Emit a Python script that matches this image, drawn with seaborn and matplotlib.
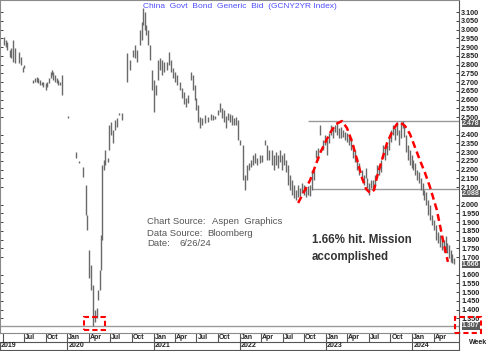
import matplotlib
matplotlib.use("Agg")
import matplotlib.pyplot as plt
import matplotlib.dates as mdates
import matplotlib.patches as mpatches
import pandas as pd
import seaborn as sns

# ---------------- data ----------------
dates = [
    "2019-04-08", "2019-04-16", "2019-04-20", "2019-05-03", "2019-05-08", "2019-05-16", "2019-05-25",
    "2019-06-10", "2019-06-18", "2019-06-27", "2019-07-01",
    "2019-08-08", "2019-08-16", "2019-08-25", "2019-08-29", "2019-09-07", "2019-09-15", "2019-09-19",
    "2019-10-02", "2019-10-06", "2019-10-15", "2019-10-23", "2019-10-27", "2019-11-01", "2019-11-09",
    "2019-11-18", "2019-11-22", "2019-11-30", "2019-12-09",
    "2020-01-04", "2020-02-06", "2020-02-19", "2020-03-08", "2020-03-20", "2020-03-24", "2020-04-02",
    "2020-04-10", "2020-04-19", "2020-04-27", "2020-05-06", "2020-05-10", "2020-05-19", "2020-05-23",
    "2020-05-27", "2020-06-04", "2020-06-09", "2020-06-21", "2020-06-26", "2020-07-04", "2020-07-13",
    "2020-07-21", "2020-07-30", "2020-08-07", "2020-08-20", "2020-09-10", "2020-09-23", "2020-10-05",
    "2020-10-14", "2020-10-22", "2020-11-04", "2020-11-13", "2020-11-17", "2020-11-25", "2020-11-29",
    "2020-12-08", "2020-12-16", "2020-12-26",
    "2021-01-03", "2021-01-12", "2021-01-20", "2021-01-29", "2021-02-06", "2021-02-14", "2021-02-27",
    "2021-03-08", "2021-03-16", "2021-03-25", "2021-04-02", "2021-04-11", "2021-04-23", "2021-05-02",
    "2021-05-10", "2021-05-19", "2021-05-27", "2021-06-09", "2021-06-17", "2021-06-26", "2021-06-30",
    "2021-07-09", "2021-07-17", "2021-07-25", "2021-08-07", "2021-08-20", "2021-09-02", "2021-09-10",
    "2021-09-19", "2021-10-01", "2021-10-10", "2021-10-18", "2021-10-27", "2021-11-04", "2021-11-13",
    "2021-11-21", "2021-11-30", "2021-12-08", "2021-12-17", "2021-12-25",
    "2022-01-02", "2022-01-15", "2022-01-23", "2022-02-01", "2022-02-09", "2022-02-18", "2022-02-26",
    "2022-03-07", "2022-03-15", "2022-03-28", "2022-04-05", "2022-04-18", "2022-04-27", "2022-05-05",
    "2022-05-18", "2022-05-26", "2022-06-04", "2022-06-12", "2022-06-21", "2022-06-29", "2022-07-08",
    "2022-07-16", "2022-07-25", "2022-08-02", "2022-08-11", "2022-08-19", "2022-08-28", "2022-09-05",
    "2022-09-13", "2022-09-22", "2022-09-30", "2022-10-09", "2022-10-17", "2022-10-26", "2022-11-03",
    "2022-11-12", "2022-11-20", "2022-11-29", "2022-12-07", "2022-12-20", "2022-12-28",
    "2023-01-06", "2023-01-14", "2023-01-23", "2023-01-31", "2023-02-09", "2023-02-17", "2023-02-26",
    "2023-03-06", "2023-03-14", "2023-03-23", "2023-03-31", "2023-04-09", "2023-04-17", "2023-04-26",
    "2023-05-04", "2023-05-13", "2023-05-21", "2023-06-03", "2023-06-11", "2023-06-20", "2023-06-24",
    "2023-07-03", "2023-07-11", "2023-07-20", "2023-07-28", "2023-08-06", "2023-08-14", "2023-08-22",
    "2023-08-31", "2023-09-08", "2023-09-17", "2023-09-25", "2023-10-04", "2023-10-12", "2023-10-21",
    "2023-10-29", "2023-11-07", "2023-11-15", "2023-11-24", "2023-11-28", "2023-12-06", "2023-12-15",
    "2023-12-23",
    "2024-01-02", "2024-01-05", "2024-01-13", "2024-01-22", "2024-01-30", "2024-02-08", "2024-02-16",
    "2024-02-20", "2024-02-29", "2024-03-08", "2024-03-17", "2024-03-25", "2024-04-03", "2024-04-11",
    "2024-04-20", "2024-04-28", "2024-05-07", "2024-05-15", "2024-05-24", "2024-05-28", "2024-06-05",
    "2024-06-12", "2024-06-19", "2024-06-26",
]
highs = [
    2.957, 2.940, 2.929, 2.883, 2.894, 2.940, 2.894, 2.871, 2.843, 2.786, 2.797,
    2.711, 2.723, 2.729, 2.723, 2.711, 2.700, 2.700, 2.694, 2.700, 2.723, 2.757, 2.769, 2.757, 2.740,
    2.723, 2.711, 2.700, 2.740,
    2.506, 2.300, 2.249, 2.214, 2.111, 1.940, 1.740, 1.654, 1.540, 1.397, 1.409, 1.511, 1.626, 1.826,
    2.226, 2.254, 2.311, 2.266, 2.454, 2.471, 2.426, 2.483, 2.494, 2.523, 2.523, 2.866, 2.826, 2.883,
    2.911, 2.883, 2.997, 3.043, 3.123, 3.100, 3.026, 2.997, 2.911, 2.769,
    2.711, 2.683, 2.826, 2.837, 2.826, 2.814, 2.814, 2.871, 2.826, 2.780, 2.757, 2.740, 2.700, 2.666,
    2.643, 2.609, 2.626, 2.757, 2.740, 2.683, 2.609, 2.569, 2.500, 2.494, 2.511, 2.500, 2.517, 2.511,
    2.506, 2.540, 2.580, 2.551, 2.540, 2.506, 2.523, 2.517, 2.511, 2.494, 2.500, 2.483,
    2.369, 2.340, 2.169, 2.226, 2.237, 2.254, 2.283, 2.294, 2.266, 2.283, 2.283, 2.369, 2.340, 2.311,
    2.311, 2.283, 2.300, 2.283, 2.311, 2.283, 2.294, 2.254, 2.226, 2.169, 2.140, 2.111, 2.083, 2.111,
    2.094, 2.123, 2.111, 2.094, 2.106, 2.111, 2.197, 2.197, 2.311, 2.323, 2.454, 2.369, 2.397,
    2.369, 2.409, 2.454, 2.437, 2.454, 2.471, 2.437, 2.443, 2.426, 2.414, 2.409, 2.397, 2.380, 2.340,
    2.311, 2.266, 2.237, 2.197, 2.169, 2.209, 2.151, 2.123, 2.140, 2.140, 2.169, 2.226, 2.226, 2.254,
    2.340, 2.323, 2.340, 2.380, 2.426, 2.454, 2.437, 2.471, 2.426, 2.471, 2.478, 2.454, 2.397, 2.340,
    2.311,
    2.283, 2.254, 2.237, 2.197, 2.186, 2.151, 2.123, 2.083, 2.071, 2.026, 1.997, 1.940, 1.911, 1.883,
    1.843, 1.826, 1.814, 1.797, 1.820, 1.780, 1.769, 1.740, 1.717, 1.694,
]
lows = [
    2.911, 2.900, 2.883, 2.843, 2.837, 2.814, 2.809, 2.809, 2.797, 2.757, 2.780,
    2.694, 2.700, 2.700, 2.694, 2.683, 2.683, 2.671, 2.654, 2.671, 2.694, 2.723, 2.740, 2.711, 2.700,
    2.694, 2.683, 2.683, 2.626,
    2.494, 2.266, 2.237, 2.157, 1.940, 1.854, 1.580, 1.511, 1.307, 1.329, 1.352, 1.454, 1.511, 1.626,
    1.797, 2.197, 2.226, 2.243, 2.311, 2.397, 2.351, 2.426, 2.443, 2.511, 2.483, 2.700, 2.769, 2.843,
    2.837, 2.814, 2.911, 2.940, 3.026, 2.997, 2.969, 2.911, 2.826, 2.654,
    2.529, 2.626, 2.711, 2.769, 2.740, 2.757, 2.769, 2.797, 2.757, 2.723, 2.700, 2.683, 2.654, 2.609,
    2.574, 2.557, 2.580, 2.711, 2.654, 2.597, 2.540, 2.471, 2.437, 2.454, 2.466, 2.471, 2.483, 2.483,
    2.489, 2.511, 2.529, 2.494, 2.471, 2.437, 2.483, 2.471, 2.454, 2.454, 2.454, 2.369,
    2.340, 2.140, 2.083, 2.140, 2.197, 2.214, 2.226, 2.237, 2.226, 2.237, 2.243, 2.340, 2.254, 2.254,
    2.226, 2.197, 2.226, 2.209, 2.243, 2.197, 2.226, 2.186, 2.111, 2.083, 2.054, 2.037, 2.026, 2.043,
    2.049, 2.066, 2.054, 2.043, 2.054, 2.049, 2.083, 2.140, 2.266, 2.254, 2.397, 2.311, 2.340,
    2.283, 2.351, 2.397, 2.380, 2.414, 2.397, 2.380, 2.380, 2.386, 2.369, 2.357, 2.340, 2.311, 2.266,
    2.243, 2.197, 2.169, 2.140, 2.111, 2.151, 2.094, 2.054, 2.094, 2.083, 2.111, 2.151, 2.169, 2.186,
    2.266, 2.254, 2.283, 2.311, 2.357, 2.397, 2.369, 2.397, 2.340, 2.380, 2.437, 2.386, 2.300, 2.254,
    2.226,
    2.209, 2.197, 2.169, 2.140, 2.123, 2.083, 2.054, 2.026, 1.997, 1.940, 1.911, 1.883, 1.854, 1.797,
    1.780, 1.757, 1.740, 1.729, 1.740, 1.723, 1.694, 1.672, 1.666, 1.660,
]

# red dashed "double top" sketch
curve_dates = [
    "2022-09-05", "2022-10-26", "2022-12-07", "2023-01-18", "2023-02-13", "2023-03-10", "2023-03-31",
    "2023-04-22", "2023-05-13", "2023-06-03", "2023-06-20", "2023-07-07", "2023-07-24", "2023-08-05",
    "2023-08-26", "2023-09-17", "2023-10-12", "2023-10-29", "2023-11-10", "2023-12-02", "2023-12-23",
    "2024-01-13", "2024-02-03", "2024-02-25", "2024-03-17", "2024-04-15", "2024-05-11", "2024-06-01",
]
curve_vals = [
    2.009, 2.140, 2.294, 2.409, 2.460, 2.477, 2.437,
    2.357, 2.254, 2.151, 2.089, 2.066, 2.083, 2.157,
    2.254, 2.351, 2.426, 2.460, 2.471, 2.449, 2.403,
    2.329, 2.254, 2.180, 2.100, 1.969, 1.797, 1.672,
]

# horizontal reference levels: value, start date
level_vals = [1.307, 2.088, 2.478]
level_starts = ["2019-03-21", "2022-11-03", "2022-10-17"]
level_labels = ["1.307", "2.088", "2.478", "1.666"]
level_label_vals = [1.307, 2.088, 2.478, 1.666]

# low-point box (dates, values)
box_dates = ["2020-03-12", "2020-06-08"]
box_vals = [1.283, 1.357]

ytick_vals = [1.35, 1.40, 1.45, 1.50, 1.55, 1.60, 1.70, 1.75, 1.80, 1.85, 1.90, 1.95, 2.00,
              2.10, 2.15, 2.20, 2.25, 2.30, 2.35, 2.40, 2.50, 2.55, 2.60, 2.65, 2.70,
              2.75, 2.80, 2.85, 2.90, 2.95, 3.00, 3.05, 3.10]
ytick_labels = ["1.350", "1.400", "1.450", "1.500", "1.550", "1.600", "1.700", "1.750", "1.800",
                "1.850", "1.900", "1.950", "2.000", "2.100", "2.150", "2.200", "2.250", "2.300",
                "2.350", "2.400", "2.500", "2.550", "2.600", "2.650", "2.700", "2.750", "2.800",
                "2.850", "2.900", "2.950", "3.000", "3.050", "3.100"]

quarter_starts = ["2019-04-01", "2019-07-01", "2019-10-01", "2020-01-01", "2020-04-01", "2020-07-01",
                  "2020-10-01", "2021-01-01", "2021-04-01", "2021-07-01", "2021-10-01", "2022-01-01",
                  "2022-04-01", "2022-07-01", "2022-10-01", "2023-01-01", "2023-04-01", "2023-07-01",
                  "2023-10-01", "2024-01-01", "2024-04-01"]
quarter_labels = ["", "Jul", "Oct", "Jan", "Apr", "Jul", "Oct", "Jan", "Apr", "Jul", "Oct", "Jan",
                  "Apr", "Jul", "Oct", "Jan", "Apr", "Jul", "Oct", "Jan", "Apr"]
year_starts = ["2019-03-21", "2020-01-01", "2021-01-01", "2022-01-01", "2023-01-01", "2024-01-01"]
year_labels = ["2019", "2020", "2021", "2022", "2023", "2024"]

title = "China  Govt  Bond  Generic  Bid  (GCNY2YR Index)"

# ---------------- style ----------------
sns.set_style("white")
plt.rcParams["font.family"] = ["Liberation Sans", "DejaVu Sans"]

W, H = 496, 351
fig = plt.figure(figsize=(W / 100, H / 100), dpi=100)
ax = fig.add_axes([0, 18 / H, 459 / W, 333 / H])

df = pd.DataFrame({"date": pd.to_datetime(dates), "high": highs, "low": lows})
ax.vlines(df["date"], df["low"], df["high"], color="#6a6a6a", lw=1.0, zorder=3)

# reference levels
xmin, xmax = pd.Timestamp("2019-03-21"), pd.Timestamp("2024-07-18")
for v, s in zip(level_vals, level_starts):
    ax.hlines(v, pd.Timestamp(s), xmax, color="#9a9a9a", lw=1.0, zorder=2)

# red dashed curve
cdf = pd.DataFrame({"date": pd.to_datetime(curve_dates), "val": curve_vals})
sns.lineplot(data=cdf, x="date", y="val", sort=False, color="#ff0000", lw=1.8, ax=ax, zorder=4)
ax.lines[-1].set_dashes((2.8, 1.6))

# low box
bd = mdates.date2num(pd.to_datetime(box_dates))
ax.add_patch(mpatches.Rectangle((bd[0], box_vals[0]), bd[1] - bd[0], box_vals[1] - box_vals[0],
                                fill=False, ec="#ff0000", ls=(0, (2.5, 1.5)), lw=1.5, zorder=5,
                                clip_on=False))

ax.set_xlim(xmin, xmax)
ax.set_ylim(1.2658, 3.1686)
ax.set_xlabel("")
ax.set_ylabel("")

# y axis on the right (small ticks also on the left edge)
ax.yaxis.tick_right()
ax.set_yticks(ytick_vals)
ax.set_yticklabels(ytick_labels)
ax.tick_params(axis="y", right=True, left=True, labelleft=False, labelright=True, length=2,
               width=0.6, pad=1.5, labelsize=5.2, colors="#222222", direction="in")
for t in ax.get_yticklabels():
    t.set_fontweight("bold")
ax.set_xticks([])

for sp in ax.spines.values():
    sp.set_color("#8a8a8a")
    sp.set_linewidth(0.8)
ax.spines["right"].set_linestyle((0, (1, 1)))
ax.spines["right"].set_color("#555555")
ax.spines["left"].set_linestyle((0, (1, 1)))

# boxed level labels (nudged slightly so they sit just under the neighbouring tick label)
label_nudge = [0.0, -0.025, -0.015, -0.009]
for lab, v, dv in zip(level_labels, level_label_vals, label_nudge):
    ax.text(1 + 3 / 459, v + dv, lab, transform=ax.get_yaxis_transform(), ha="left", va="center",
            fontsize=5.0, fontweight="bold", color="#eeeeee", zorder=6,
            bbox=dict(boxstyle="square,pad=0.05", fc="#5a5a5a", ec="none"), clip_on=False)

# bottom date bands
xt = ax.get_xaxis_transform()
r1 = -9 / 333
r2 = -16.5 / 333
ax.plot([0, 1], [r1, r1], transform=ax.transAxes, color="#555555", lw=0.8, clip_on=False)
ax.plot([0, 1], [r2, r2], transform=ax.transAxes, color="#555555", lw=0.8, clip_on=False)
for d, lab in zip(quarter_starts, quarter_labels):
    dn = mdates.date2num(pd.Timestamp(d))
    ax.plot([dn, dn], [0, r1], transform=xt, color="#555555", lw=0.8, clip_on=False)
    ax.text(dn + 4, r1 / 2, lab, transform=xt, ha="left", va="center", fontsize=5.0,
            fontweight="bold", color="#222222")
for d, lab in zip(year_starts, year_labels):
    dn = mdates.date2num(pd.Timestamp(d))
    ax.plot([dn, dn], [r1, r2], transform=xt, color="#555555", lw=0.8, clip_on=False)
    ax.text(dn + 5, (r1 + r2) / 2, lab, transform=xt, ha="left", va="center", fontsize=5.0,
            fontweight="bold", color="#222222")

# right column separator & "Week"
fig.add_artist(plt.Line2D([459 / W, 459 / W], [0, 18 / H], transform=fig.transFigure,
                          color="#555555", lw=0.8))
fig.text(478 / W, 1 - 342 / H, "Week", ha="center", va="center", fontsize=5.0,
         fontweight="bold", color="#222222")

# right red box around the low label
fig.add_artist(mpatches.Rectangle((455 / W, 1 - 333 / H), 26 / W, 16 / H, transform=fig.transFigure,
                                  fill=False, ec="#ff0000", ls=(0, (2.5, 1.5)), lw=1.5))

# title
fig.text(240 / W, 1 - 6 / H, title, ha="center", va="center", fontsize=6.0, color="#4f4fff")

# source annotation
src_lab = ["Chart Source:", "Data Source:", "Date:"]
src_val = ["Aspen  Graphics", "Bloomberg", "6/26/24"]
src_x = [212, 207, 180]
src_y = [222, 233, 244]
for lab, val, xv, yv in zip(src_lab, src_val, src_x, src_y):
    fig.text(147 / W, 1 - yv / H, lab, ha="left", va="center", fontsize=6.8, color="#555555")
    fig.text(xv / W, 1 - yv / H, val, ha="left", va="center", fontsize=6.8, color="#555555")

fig.text(312 / W, 1 - 240 / H, "1.66% hit. Mission", ha="left", va="center", fontsize=8.3,
         fontweight="bold", color="#333333")
fig.text(312 / W, 1 - 257 / H, "accomplished", ha="left", va="center", fontsize=8.3,
         fontweight="bold", color="#333333")

fig.savefig("out.png", dpi=100)
